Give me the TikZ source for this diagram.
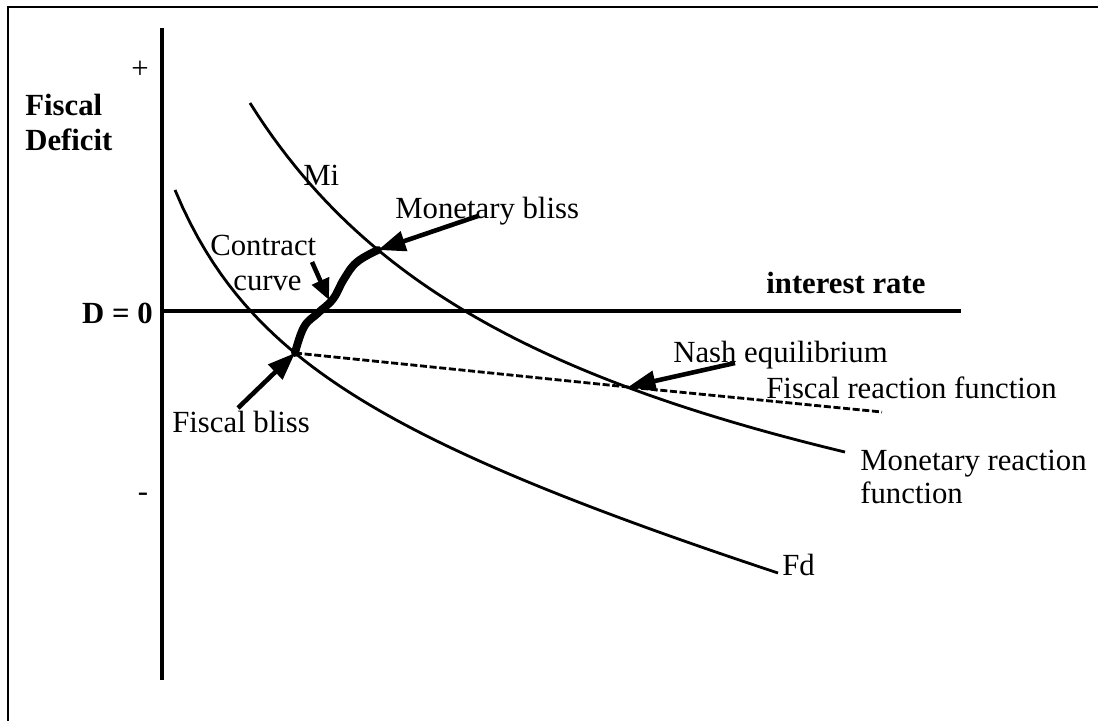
\documentclass[tikz,border=0pt]{standalone}
\usepackage{fontspec}
\setmainfont{Liberation Serif}
\usetikzlibrary{arrows.meta}

\begin{document}
\begin{tikzpicture}%
        [x=0.02cm, y=-0.02cm,
        frame/.style={line width=1.6pt},
        axis/.style={line width=2.8pt},
        curve/.style={line width=1.6pt},
        contract/.style={line width=4.5pt, line cap=round},
        reaction/.style={line width=1.6pt, dash pattern=on 4pt off 1.5pt},
        pointer/.style={line width=2.6pt, -{Triangle[length=0.55cm, width=0.4cm]}},
        lbl/.style={inner sep=0pt, font=\fontsize{17.5}{20}\selectfont},
        blbl/.style={inner sep=0pt, font=\fontsize{17.5}{20}\selectfont\bfseries}]
    \useasboundingbox (0,0) rectangle (1098,721);
    %% Frame (cut off at right and bottom)
    \draw[frame] (1098,7) -- (8,7) -- (8,721);
    %%
    %% Drawing the axes
    \draw[axis] (162,28) -- (162,680);
    \draw[axis] (162,311) -- (961,311);
    \node[lbl] (plus) at (140,70) {+};
    \node[lbl] (minus) at (143,497) {-};
    \node[blbl, anchor=base west] (fiscal) at (25,115) {Fiscal};
    \node[blbl, anchor=base west] (deficit) at (25,150) {Deficit};
    \node[blbl, anchor=base east] (dzero) at (153,323) {D = 0};
    \node[blbl, anchor=base west] (rate) at (766,293) {interest rate};
    %%
    %% Points on the curves
    \coordinate (fbliss) at (295,353);
    \coordinate (mbliss) at (378,250);
    \coordinate (nash) at (628,387);
    \coordinate (ccurve) at (329,300);
    \coordinate (fend) at (882,412);
    %%
    %% Reaction functions
    \draw[curve] plot[domain=250:845, samples=80]
        (\x, {564.2 + 0.0603*\x - 147.642/((\x+60)/1000)});
    \draw[curve] plot[domain=175:778, samples=80]
        (\x, {410.1 + 0.2683*\x - 33.382/((\x-50)/1000)});
    \draw[reaction] (fbliss) -- (nash) -- (fend);
    \draw[contract] plot[smooth, tension=0.7] coordinates
        {(295,353) (304,327) (318,313) (333,299) (344,279) (357,262) (378,250)};
    %%
    %% Labels
    \node[lbl, anchor=base west] (mi) at (303,185) {Mi};
    \node[lbl, anchor=base west] (fd) at (782,575) {Fd};
    \node[lbl, anchor=base west] (mblabel) at (395,218) {Monetary bliss};
    \node[lbl, anchor=base west] (contractl) at (210,255) {Contract};
    \node[lbl, anchor=base west] (curvel) at (233,290) {curve};
    \node[lbl, anchor=base west] (nashl) at (673,362) {Nash equilibrium};
    \node[lbl, anchor=base west] (frf) at (766,398) {Fiscal reaction function};
    \node[lbl, anchor=base west] (mrf) at (860,470) {Monetary reaction};
    \node[lbl, anchor=base west] (mrf2) at (860,503) {function};
    \node[lbl, anchor=base west] (fblabel) at (172,432) {Fiscal bliss};
    %%
    %% Arrows
    \coordinate (mbtail) at (478,216);
    \coordinate (cctail) at (312,262);
    \coordinate (fbtail) at (238,408);
    \coordinate (nashtail) at (735,363);
    \draw[pointer] (mbtail) -- (mbliss);
    \draw[pointer, -{Triangle[length=0.42cm, width=0.36cm]}] (cctail) -- (ccurve);
    \draw[pointer] (fbtail) -- (fbliss);
    \draw[pointer] (nashtail) -- (nash);
\end{tikzpicture}
\end{document}
